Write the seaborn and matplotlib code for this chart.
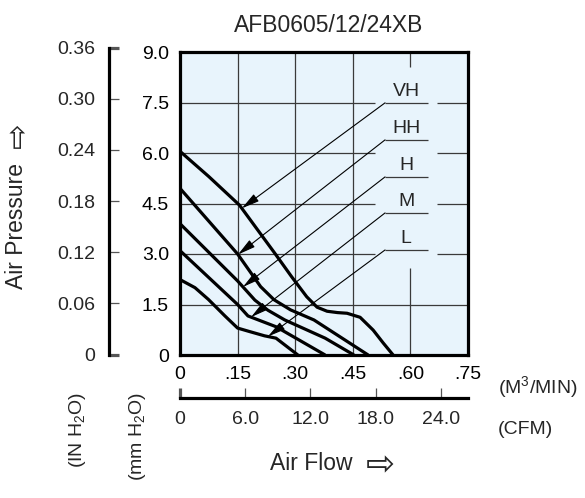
import numpy as np
import pandas as pd
import matplotlib
matplotlib.use("Agg")
import matplotlib.pyplot as plt
import seaborn as sns

# ---------------- data ----------------
title = "AFB0605/12/24XB"
speeds = ["VH", "HH", "H", "M", "L"]

flow_vh = [0, 0.075, 0.155, 0.20, 0.247, 0.291, 0.33, 0.357, 0.383, 0.41, 0.435, 0.469, 0.503, 0.529, 0.555]
pres_vh = [6.05, 5.3, 4.45, 3.75, 3.02, 2.32, 1.73, 1.42, 1.30, 1.26, 1.24, 1.12, 0.74, 0.36, 0.0]

flow_hh = [0, 0.15, 0.21, 0.245, 0.288, 0.349, 0.49]
pres_hh = [4.95, 3.0, 2.03, 1.64, 1.34, 1.04, 0.0]

flow_h = [0, 0.15, 0.195, 0.229, 0.273, 0.378, 0.453]
pres_h = [3.9, 2.2, 1.63, 1.33, 1.04, 0.50, 0.0]

flow_m = [0, 0.15, 0.177, 0.25, 0.378]
pres_m = [3.1, 1.5, 1.16, 0.84, 0.0]

flow_l = [0, 0.039, 0.074, 0.117, 0.15, 0.18, 0.22, 0.25, 0.307]
pres_l = [2.24, 2.0, 1.65, 1.16, 0.80, 0.70, 0.57, 0.50, 0.0]

mm_ticks = [0, 1.5, 3.0, 4.5, 6.0, 7.5, 9.0]
mm_labels = ["0", "1.5", "3.0", "4.5", "6.0", "7.5", "9.0"]
in_ticks = [0, 0.06, 0.12, 0.18, 0.24, 0.30, 0.36]
in_labels = ["0", "0.06", "0.12", "0.18", "0.24", "0.30", "0.36"]
m3_ticks = [0, 0.15, 0.30, 0.45, 0.60, 0.75]
m3_labels = ["0", ".15", ".30", ".45", ".60", ".75"]
cfm_ticks = [0, 6.0, 12.0, 18.0, 24.0]
cfm_labels = ["0", "6.0", "12.0", "18.0", "24.0"]

# ---------------- layout constants ----------------
W, H = 585, 498
sns.set_theme(style="white")
plt.rcParams["font.family"] = ["Liberation Sans", "DejaVu Sans"]
plt.rcParams["mathtext.fontset"] = "custom"
plt.rcParams["mathtext.rm"] = "Liberation Sans"

def fx(px):
    return px / W

def fy(py):
    return 1 - py / H

fig = plt.figure(figsize=(W / 100, H / 100), dpi=100)
fig.patch.set_facecolor("white")

ax_l, ax_r, ax_t, ax_b = 180, 468, 52, 355
ax = fig.add_axes([fx(ax_l), fy(ax_b), (ax_r - ax_l) / W, (ax_b - ax_t) / H])
ax.set_facecolor("#E8F4FC")

df = pd.concat([
    pd.DataFrame({"flow": f, "pressure": p, "speed": s})
    for f, p, s in zip([flow_vh, flow_hh, flow_h, flow_m, flow_l],
                       [pres_vh, pres_hh, pres_h, pres_m, pres_l], speeds)
])

# grid lines (with the gap where the labels sit)
grid_kw = dict(color="#3a3a3a", lw=0.9, zorder=1)
gap_x = (0.508, 0.669)
for yv in [1.5, 3.0, 4.5, 6.0, 7.5]:
    if yv == 1.5:
        ax.hlines(yv, 0, 0.75, **grid_kw)
    else:
        ax.hlines(yv, 0, gap_x[0], **grid_kw)
        ax.hlines(yv, gap_x[1], 0.75, **grid_kw)
for xv in [0.15, 0.30, 0.45]:
    ax.vlines(xv, 0, 9, **grid_kw)
ax.vlines(0.60, 0, 2.58, **grid_kw)
ax.vlines(0.60, 8.55, 9, **grid_kw)

sns.lineplot(data=df, x="flow", y="pressure", hue="speed", hue_order=speeds,
             palette=["black"] * 5, sort=False, estimator=None, legend=False,
             lw=2.3, ax=ax, zorder=3)
for ln in ax.lines:
    ln.set_solid_joinstyle("round")
    ln.set_solid_capstyle("butt")

ax.set_xlim(0, 0.75)
ax.set_ylim(0, 9)
ax.set_xticks(m3_ticks, m3_labels)
ax.set_yticks(mm_ticks, mm_labels)
ax.tick_params(axis="both", length=0, labelsize=14, colors="black")
ax.tick_params(axis="y", pad=8)
ax.tick_params(axis="x", pad=8)
ax.set_xlabel("")
ax.set_ylabel("")
for sp in ax.spines.values():
    sp.set_visible(True)
    sp.set_color("black")
    sp.set_linewidth(2.3)
ax.grid(False)

# labels + leader arrows
series = {"VH": (flow_vh, pres_vh), "HH": (flow_hh, pres_hh), "H": (flow_h, pres_h),
          "M": (flow_m, pres_m), "L": (flow_l, pres_l)}
underline_p = [7.49, 6.39, 5.29, 4.22, 3.12]
tip_q = [0.161, 0.151, 0.164, 0.185, 0.229]
u_x0, u_x1, lab_x = 0.534, 0.646, 0.589
for name, up, tq in zip(speeds, underline_p, tip_q):
    fq, fp = series[name]
    tp = float(np.interp(tq, fq, fp))
    ax.hlines(up, u_x0, u_x1, color="#3a3a3a", lw=0.9, zorder=2)
    ax.text(lab_x, up + 0.33, name, ha="center", va="center", fontsize=14, zorder=4)
    ax.annotate("", xy=(tq, tp), xytext=(u_x0, up),
                arrowprops=dict(arrowstyle="-|>,head_length=0.9,head_width=0.22",
                                color="black", lw=0.8, mutation_scale=12,
                                shrinkA=0, shrinkB=0), zorder=4)

# IN H2O axis (left bracket)
ax_in = fig.add_axes([fx(109), fy(354.5), 20 / W, (354.5 - 47.5) / H])
ax_in.patch.set_visible(False)
for k, sp in ax_in.spines.items():
    sp.set_visible(k == "left")
ax_in.spines["left"].set_linewidth(2.3)
ax_in.spines["left"].set_color("black")
ax_in.set_ylim(0, 0.36)
ax_in.set_xticks([])
ax_in.set_yticks(in_ticks, in_labels)
ax_in.tick_params(axis="y", direction="in", length=7.2, width=0.9, color="#555555",
                  labelsize=14, pad=10, left=True)
yt = ax_in.yaxis.get_major_ticks()
for t in (yt[0], yt[-1]):
    t.tick1line.set_markeredgewidth(2.3)
    t.tick1line.set_color("black")

# CFM axis (bottom bracket)
ax_cfm = fig.add_axes([fx(ax_l), fy(398), (ax_r - ax_l) / W, 10 / H])
ax_cfm.patch.set_visible(False)
for k, sp in ax_cfm.spines.items():
    sp.set_visible(k == "bottom")
ax_cfm.spines["bottom"].set_linewidth(2.3)
ax_cfm.spines["bottom"].set_color("black")
ax_cfm.set_xlim(0, 0.75 * 35.315)
ax_cfm.set_yticks([])
ax_cfm.set_xticks(cfm_ticks, cfm_labels)
ax_cfm.tick_params(axis="x", direction="in", length=7.2, width=0.9, color="#555555",
                   labelsize=14, pad=9, bottom=True)
xt = ax_cfm.xaxis.get_major_ticks()
xt[0].tick1line.set_markeredgewidth(2.3)
xt[0].tick1line.set_color("black")

# texts
fig.text(fx(329), fy(26), title, ha="center", va="center", fontsize=16.5)
fig.text(fx(17), fy(226), "Air Pressure", rotation=90, ha="center", va="center",
         fontsize=16.5)
fig.text(fx(18), fy(135), "\u21e8", rotation=90, ha="center", va="center",
         fontsize=22, family=["DejaVu Sans"])
fig.text(fx(77), fy(392), "(IN H$\\mathregular{_2}$O)", rotation=90, ha="center", va="top",
         fontsize=14)
fig.text(fx(137), fy(392), "(mm H$\\mathregular{_2}$O)", rotation=90, ha="center", va="top",
         fontsize=14)
fig.text(fx(498), fy(387), "(M$\\mathregular{^3}$/MIN)", ha="left", va="center", fontsize=14)
fig.text(fx(498), fy(430), "(CFM)", ha="left", va="center", fontsize=14)
fig.text(fx(270), fy(463), "Air Flow", ha="left", va="center", fontsize=16.5)
fig.text(fx(366), fy(465), "\u21e8", ha="left", va="center", fontsize=25,
         family=["DejaVu Sans"])

fig.savefig("out.png", dpi=100, facecolor="white")
